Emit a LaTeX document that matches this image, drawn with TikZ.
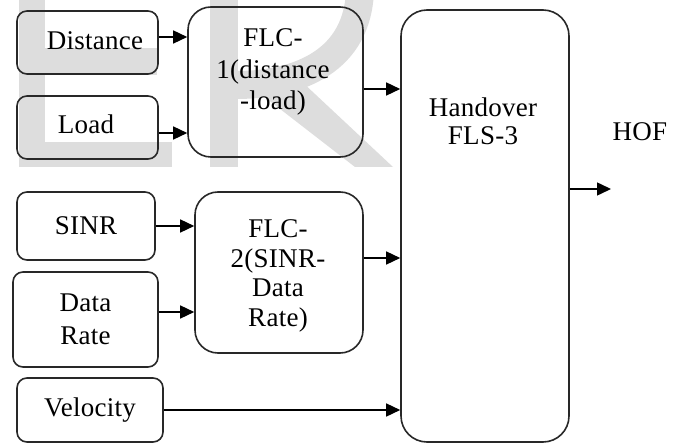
\documentclass[tikz,border=0pt]{standalone}
\usepackage{fontspec}
\setmainfont{Liberation Serif}[LetterSpace=1]
\usetikzlibrary{arrows.meta}
\definecolor{wm}{RGB}{221,221,221}
\definecolor{bd}{RGB}{40,40,40}
\begin{document}
\begin{tikzpicture}[x=0.5pt,y=-0.5pt,
  box/.style={draw=bd, line width=0.8pt, inner sep=0pt, align=center,
    font=\fontsize{13.5}{15}\selectfont},
  small/.style={box, rounded corners=5pt},
  big/.style={box, rounded corners=11.5pt},
  txt/.style={align=center, inner sep=0pt, font=\fontsize{13.5}{15}\selectfont},
  arr/.style={draw=black, line width=0.75pt, -{Triangle[length=7pt,width=6.5pt]}}
]
\useasboundingbox (0,0) rectangle (685,443);
% watermark
\begin{scope}
\clip (0,0) rectangle (685,443);
\fill[wm] (19,-2) rectangle (45,167);
\fill[wm] (45,48) rectangle (157,75);
\fill[wm] (45,142) rectangle (172,167);
\fill[wm] (210,-2) rectangle (238,167);
\draw[wm, line width=14pt] (360,-10) .. controls (358,60) and (300,85) .. (236,85);
\fill[wm] (262,95) -- (300,80) -- (393,167) -- (355,167) -- cycle;
\end{scope}
% boxes
\node[small, minimum width=70.5pt, minimum height=31.5pt] (dist) at (87.5,42.5) {};
\node[txt] (td) at (95,41) {Distance};
\node[small, minimum width=70.5pt, minimum height=31.5pt] (load) at (87.5,127.5) {};
\node[txt] (tl) at (86,124) {Load};
\node[big, minimum width=87.5pt, minimum height=75pt] (flc1) at (275.5,82) {};
\node[txt, font=\fontsize{13.5}{15.75}\selectfont] (t1) at (273,72) {FLC-\\1(distance\\-load)};
\node[small, minimum width=69pt, minimum height=34pt] (sinr) at (86,226) {SINR};
\node[small, minimum width=72.5pt, minimum height=47.5pt, font=\fontsize{13.5}{16.5}\selectfont] (rate) at (85.5,319.5) {Data\\Rate};
\node[small, minimum width=73pt, minimum height=32pt] (vel) at (90,410) {Velocity};
\node[big, minimum width=84pt, minimum height=80.5pt] (flc2) at (279,272.5) {};
\node[txt, font=\fontsize{13.5}{14.7}\selectfont] (t2) at (278,276) {FLC-\\2(SINR-\\Data\\Rate)};
\node[box, rounded corners=13pt, minimum width=84pt, minimum height=216pt] (ho) at (485,226) {};
\node[txt, font=\fontsize{13.5}{14}\selectfont] (t3) at (483,121) {Handover\\FLS-3};
\node[txt] (hof) at (640,132) {HOF};
% connectors
\coordinate (a1) at ([yshift=2.75pt]dist.east);
\draw[arr] (a1) -- (a1 -| flc1.west);
\coordinate (a2) at ([yshift=-2.75pt]load.east);
\draw[arr] (a2) -- (a2 -| flc1.west);
\coordinate (a3) at ([yshift=-3.5pt]flc1.east);
\draw[arr] (a3) -- (a3 -| ho.west);
\draw[arr] (sinr.east) -- (sinr.east -| flc2.west);
\coordinate (a4) at ([yshift=3.75pt]rate.east);
\draw[arr] (a4) -- (a4 -| flc2.west);
\coordinate (a5) at ([yshift=7.25pt]flc2.east);
\draw[arr] (a5) -- (a5 -| ho.west);
\draw[arr] (vel.east) -- (vel.east -| ho.west);
\coordinate (a6) at ([yshift=18.5pt]ho.east);
\coordinate (out) at (611,189);
\draw[arr] (a6) -- (out);
\end{tikzpicture}
\end{document}
